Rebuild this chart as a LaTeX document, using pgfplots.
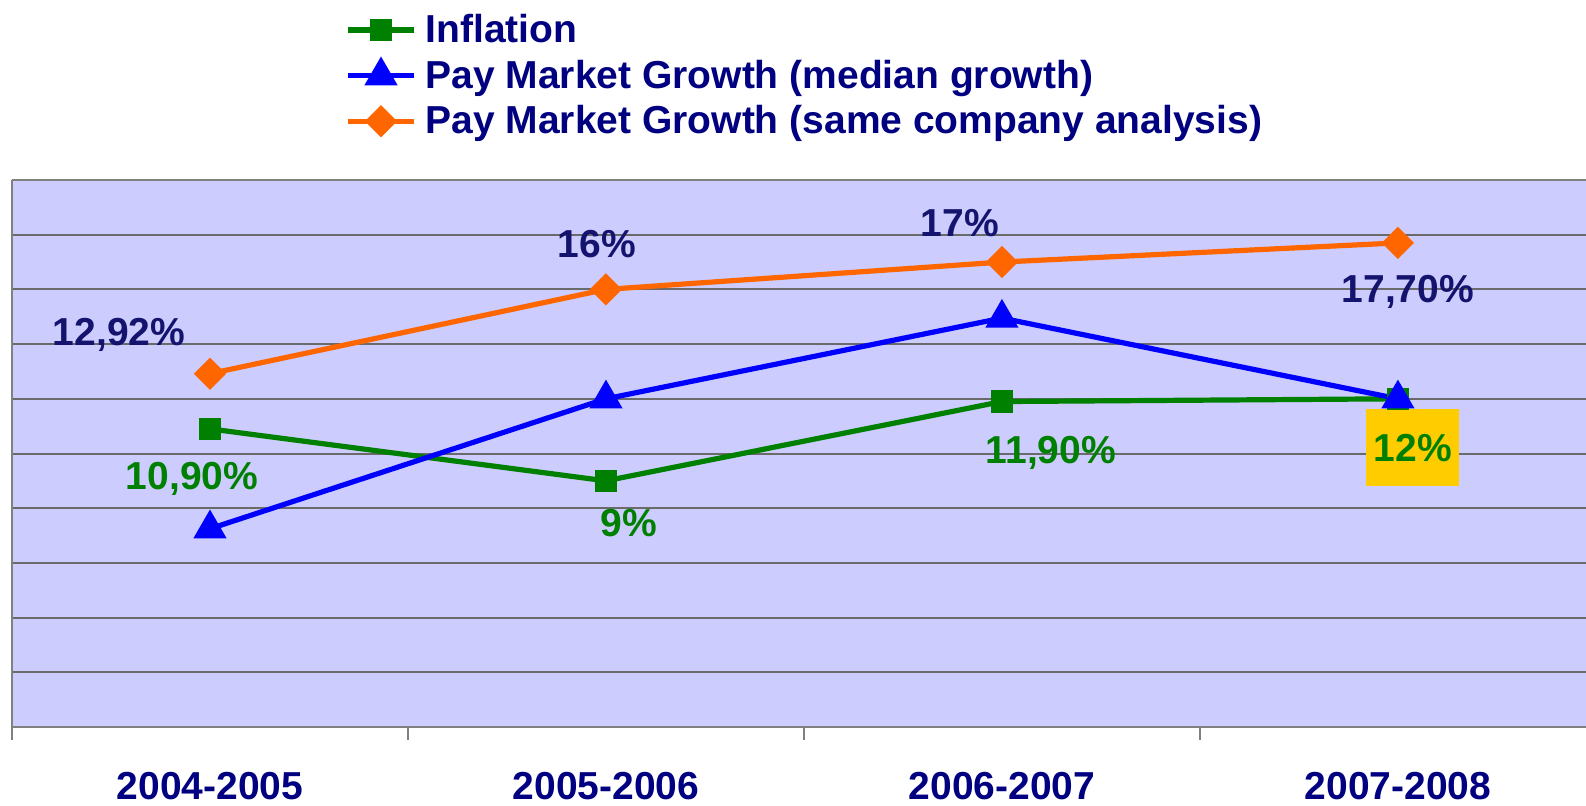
\documentclass[border=0pt]{standalone}
\usepackage{pgfplots}
\pgfplotsset{compat=1.18}
\usepackage{fontspec}
\setmainfont{Liberation Sans}
\definecolor{bg}{HTML}{CCCCFF}
\definecolor{navy}{HTML}{000080}
\definecolor{lblnavy}{HTML}{14146E}
\definecolor{grn}{HTML}{008000}
\definecolor{blu}{HTML}{0000FF}
\definecolor{org}{HTML}{FF6600}
\definecolor{gold}{HTML}{FFCC00}
\definecolor{gridgray}{HTML}{6A6A6A}
\definecolor{axgray}{HTML}{808080}
\newcommand{\bigfont}{\fontsize{19.5}{23}\selectfont\bfseries}
\begin{document}
\begin{tikzpicture}
\begin{axis}[
  name=ax,
  width=787pt, height=273.5pt, scale only axis,
  xmin=-0.5, xmax=3.475, ymin=0, ymax=20,
  axis x line*=box, axis y line*=left,
  axis line style={draw=axgray, line width=1pt},
  axis background/.style={fill=bg},
  ytick={0,2,...,20}, yticklabels={},
  ymajorgrids, y grid style={draw=gridgray, line width=1pt},
  y tick style={draw=none},
  xtick={-0.5,0.5,1.5,2.5}, xticklabels={},
  xtick pos=left,
  tick align=outside,
  major tick length=6.5pt,
  x tick style={draw=axgray, line width=1pt},
  extra x ticks={0,1,2,3},
  extra x tick labels={2004-2005,2005-2006,2006-2007,2007-2008},
  extra x tick style={major tick length=0pt, x tick style={draw=none}},
  xticklabel style={font=\bigfont, text=navy, anchor=center, yshift=-29.5pt},
  clip=false,
  legend style={at={(0,1)}, anchor=north west, xshift=163.5pt, yshift=87pt,
    draw=none, fill=none, font=\bigfont, text=navy, row sep=3.2pt,
    cells={anchor=west}, nodes={inner xsep=4.5pt}},
  legend image code/.code={%
    \draw[#1, mark=none] (0pt,0pt) -- (33pt,0pt);
    \draw[#1] plot coordinates {(16.5pt,0pt)};},
]
\addplot[grn, line width=2.6pt, mark=square*, mark size=4.25pt, mark options={solid}]
  coordinates {(0,10.9) (1,9) (2,11.9) (3,12)};
\addlegendentry{Inflation}
\addplot[blu, line width=2.6pt, mark=triangle*, mark size=7pt, mark options={solid}]
  coordinates {(0,7.25) (1,12) (2,14.95) (3,12)};
\addlegendentry{Pay Market Growth (median growth)}
\addplot[org, line width=2.6pt, mark=square*, mark size=4.4pt, mark options={solid, rotate=45}]
  coordinates {(0,12.92) (1,16) (2,17) (3,17.7)};
\addlegendentry{Pay Market Growth (same company analysis)}

\node[font=\bigfont, text=lblnavy] at (axis cs:0,12.92) [xshift=-45.5pt, yshift=19.5pt] {12,92\%};
\node[font=\bigfont, text=lblnavy] at (axis cs:1,16) [xshift=-4.5pt, yshift=22.5pt] {16\%};
\node[font=\bigfont, text=lblnavy] at (axis cs:2,17) [xshift=-21pt, yshift=19.5pt] {17\%};
\node[font=\bigfont, text=lblnavy] at (axis cs:3,17.7) [xshift=5pt, yshift=-24.5pt] {17,70\%};
\node[font=\bigfont, text=grn] at (axis cs:0,10.9) [xshift=-9pt, yshift=-25pt] {10,90\%};
\node[font=\bigfont, text=grn] at (axis cs:1,9) [xshift=11.5pt, yshift=-21pt] {9\%};
\node[font=\bigfont, text=grn] at (axis cs:2,11.9) [xshift=24.5pt, yshift=-25.5pt] {11,90\%};
\node[font=\bigfont, text=grn, fill=gold, minimum width=46.5pt, minimum height=38.5pt, inner sep=0pt] at (axis cs:3,12) [xshift=7.5pt, yshift=-24.5pt] {12\%};
\end{axis}
\pgfresetboundingbox
\path ([xshift=-6pt,yshift=-39pt]ax.south west) rectangle ++(793pt,402.5pt);
\end{tikzpicture}
\end{document}
